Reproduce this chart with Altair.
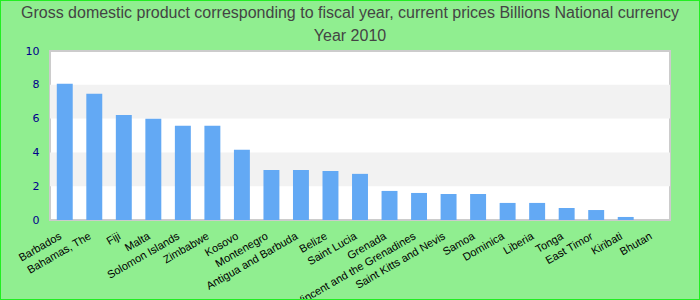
import altair as alt
import pandas as pd

title_lines = ["Gross domestic product corresponding to fiscal year, current prices Billions National currency", "Year 2010"]
countries = ["Barbados", "Bahamas, The", "Fiji", "Malta", "Solomon Islands", "Zimbabwe", "Kosovo",
             "Montenegro", "Antigua and Barbuda", "Belize", "Saint Lucia", "Grenada",
             "Saint Vincent and the Grenadines", "Saint Kitts and Nevis", "Samoa", "Dominica",
             "Liberia", "Tonga", "East Timor", "Kiribati", "Bhutan"]
values = [8.06, 7.47, 6.22, 5.99, 5.57, 5.57, 4.15, 2.96, 2.96, 2.90, 2.73, 1.72,
          1.60, 1.54, 1.54, 1.01, 1.01, 0.71, 0.59, 0.18, 0.0]
y_ticks = [0, 2, 4, 6, 8, 10]
band_lo = [2, 6]
band_hi = [4, 8]

df = pd.DataFrame({"country": countries, "value": values})
bands = pd.DataFrame({"lo": band_lo, "hi": band_hi})
tdf = pd.DataFrame({"t": ["\n".join(title_lines)]})

yscale = alt.Scale(domain=[0, 10], nice=False)
yaxis = alt.Axis(values=y_ticks, ticks=False, domain=False, grid=False,
                 labelFont="DejaVu Sans", labelFontSize=11, labelColor="#00008b",
                 labelPadding=11, labelOverlap=False)

band_layer = alt.Chart(bands).mark_rect(color="#f2f2f2").encode(
    y=alt.Y("lo:Q", scale=yscale, axis=yaxis, title=None),
    y2="hi:Q",
    x=alt.value(0),
    x2=alt.value(620),
)

bars = alt.Chart(df).mark_bar(color="#63a9f4").encode(
    x=alt.X("country:N", sort=countries, title=None,
            scale=alt.Scale(paddingInner=0.46, paddingOuter=0.23),
            axis=alt.Axis(labelAngle=-30, labelAlign="right", labelBaseline="top",
                          labelPadding=10, labelOffset=-7, ticks=False, domain=False,
                          labelFont="Liberation Sans", labelFontSize=11, labelColor="#000000",
                          labelOverlap=False, labelLimit=0)),
    y=alt.Y("value:Q", scale=yscale, title=None, axis=yaxis),
)

title = alt.Chart(tdf).mark_text(font="Liberation Sans", fontSize=16, color="#444444",
                                 lineBreak="\n", lineHeight=23, align="center",
                                 baseline="alphabetic").encode(
    text="t:N", x=alt.value(300), y=alt.value(-33)
)

border = alt.Chart(bands).mark_rect(fill=None, stroke="#22ee22", strokeWidth=2).encode(
    x=alt.value(-50), x2=alt.value(650), y=alt.value(-51), y2=alt.value(249)
)

chart = alt.layer(band_layer, bars, title, border).properties(
    width=620, height=169,
    autosize=alt.AutoSizeParams(type="none"),
    padding={"left": 50, "top": 51, "right": 30, "bottom": 80},
    background="#90ee90",
).configure_view(fill="white", stroke="#cccccc", strokeWidth=2)

chart.save("out.html", embed_options={"renderer": "svg", "actions": False})
